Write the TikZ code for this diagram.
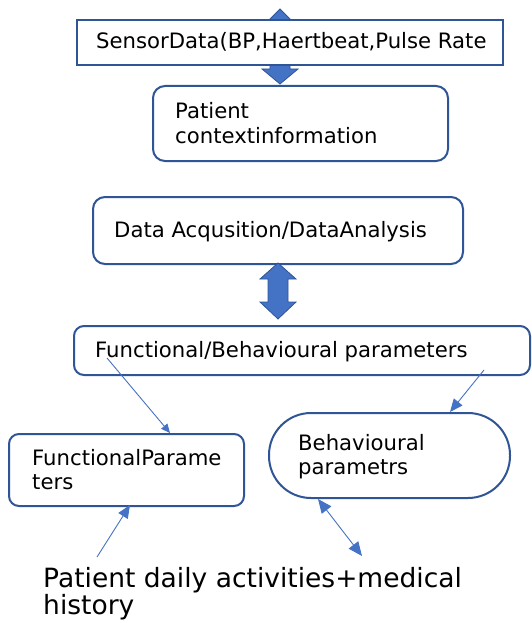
\documentclass[tikz,border=0pt]{standalone}
\usepackage{fontspec}
\setmainfont{DejaVu Sans}
\usetikzlibrary{arrows.meta}
\definecolor{boxblue}{HTML}{2F5597}
\definecolor{fillblue}{HTML}{4472C4}
\begin{document}
\begin{tikzpicture}[x=1pt,y=-1pt,
  box/.style={draw=boxblue, line width=2pt, fill=white, inner sep=0pt, anchor=north west},
  lbl/.style={anchor=base west, inner sep=0pt, font=\fontsize{21.2}{25}\selectfont},
  big/.style={anchor=base west, inner sep=0pt, font=\fontsize{26.5}{30}\selectfont},
  thinarrow/.style={draw=fillblue, line width=0.9pt},
  blockarrow/.style={fill=fillblue, draw=boxblue, line width=0.8pt, line join=miter}]
\useasboundingbox (0,0) rectangle (531,623);

% block arrow behind sensor box
\draw[blockarrow] (280,9) -- (298,27) -- (290,27) -- (290,69) -- (298,69) -- (280,84)
  -- (262,69) -- (270,69) -- (270,27) -- (262,27) -- cycle;

\node[box, minimum width=426pt, minimum height=45pt] (sensor) at (76,19) {};
\node[lbl] (sensort) at (96,49) {SensorData(BP,Haertbeat,Pulse Rate};

\node[box, rounded corners=12pt, minimum width=295pt, minimum height=75pt] (ctx) at (152,85) {};
\node[lbl] (ctx1) at (175,118) {Patient};
\node[lbl] (ctx2) at (175,143) {contextinformation};

\node[box, rounded corners=12pt, minimum width=370pt, minimum height=67pt] (daq) at (92,196) {};
\node[lbl] (daqt) at (114,237) {Data Acqusition/DataAnalysis};

% double block arrow
\draw[blockarrow] (278,263) -- (296,279) -- (288,279) -- (288,302) -- (296,302) -- (278,319)
  -- (260,302) -- (268,302) -- (268,279) -- (260,279) -- cycle;

\node[box, rounded corners=10pt, minimum width=456pt, minimum height=49pt] (fb) at (73,325) {};
\node[lbl] (fbt) at (95,357) {Functional/Behavioural parameters};

\node[box, rounded corners=10pt, minimum width=235pt, minimum height=72pt] (fp) at (8,433) {};
\node[lbl] (fp1) at (32,465) {FunctionalParame};
\node[lbl] (fp2) at (32,489) {ters};

\node[box, rounded corners=42pt, minimum width=241pt, minimum height=85pt] (bp) at (268,412) {};
\node[lbl] (bp1) at (298,450) {Behavioural};
\node[lbl] (bp2) at (298,474) {parametrs};

\node[big] (hist1) at (43,587) {Patient daily activities+medical};
\node[big] (hist2) at (43,614) {history};

% connectors
\coordinate (a1s) at (107,358);
\coordinate (a1e) at (170,433);
\draw[thinarrow, -{Triangle[length=9pt,width=8pt]}] (a1s) -- (a1e);
\coordinate (a2s) at (484,370);
\coordinate (a2e) at (450,412);
\draw[thinarrow, -{Triangle[length=13pt,width=11pt]}] (a2s) -- (a2e);
\coordinate (a3s) at (97,557);
\coordinate (a3e) at (130,505);
\draw[thinarrow, -{Triangle[length=13pt,width=11pt]}] (a3s) -- (a3e);
\coordinate (a4s) at (318,499);
\coordinate (a4e) at (362,556);
\draw[thinarrow, {Triangle[length=14pt,width=12pt]}-{Triangle[length=14pt,width=12pt]}] (a4s) -- (a4e);
\end{tikzpicture}
\end{document}
